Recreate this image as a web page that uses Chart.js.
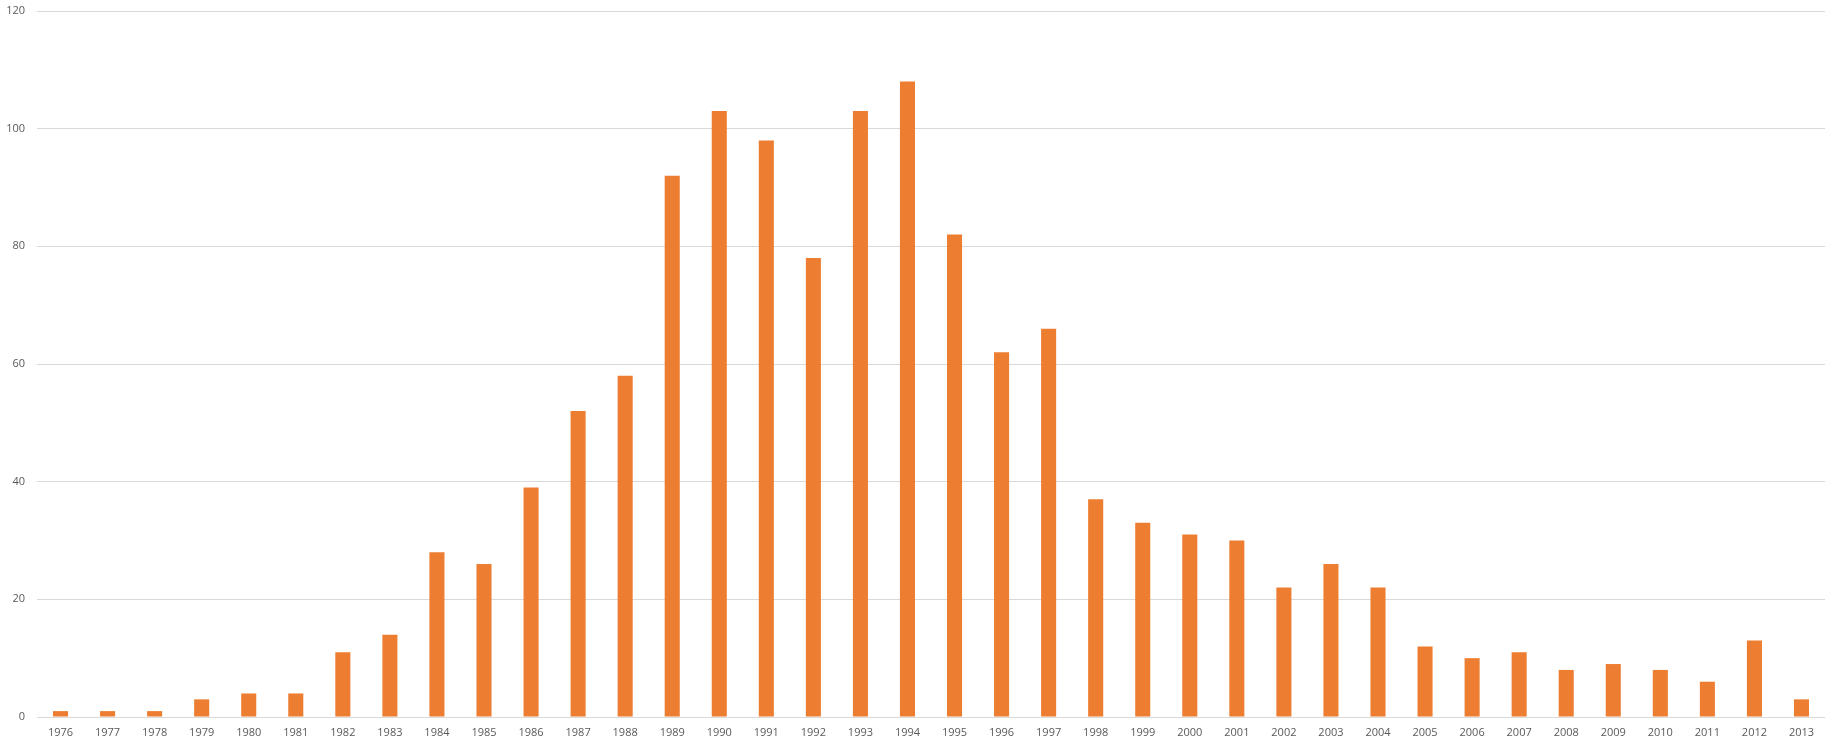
<!DOCTYPE html>
<html lang="en">
<head>
    <meta charset="UTF-8">
    <title>Bar chart 1976-2013</title>
    <script src="https://cdn.jsdelivr.net/npm/chart.js"></script>
    <style>
        body {
            margin: 0;
            padding: 0;
            background: #ffffff;
        }

        .wrap {
            width: 1834px;
            height: 748px;
            position: relative;
        }
    </style>
</head>
<body>
    <div class="wrap">
        <canvas id="barChart"></canvas>
    </div>

    <script>
        const years = [
            "1976", "1977", "1978", "1979", "1980", "1981", "1982", "1983", "1984", "1985",
            "1986", "1987", "1988", "1989", "1990", "1991", "1992", "1993", "1994", "1995",
            "1996", "1997", "1998", "1999", "2000", "2001", "2002", "2003", "2004", "2005",
            "2006", "2007", "2008", "2009", "2010", "2011", "2012", "2013"
        ];

        const counts = [
            1, 1, 1, 3, 4, 4, 11, 14, 28, 26,
            39, 52, 58, 92, 103, 98, 78, 103, 108, 82,
            62, 66, 37, 33, 31, 30, 22, 26, 22, 12,
            10, 11, 8, 9, 8, 6, 13, 3
        ];

        const yMin = 0;
        const yMax = 120;
        const yStep = 20;

        const tickFont = { family: "'Open Sans', sans-serif", size: 11 };
        const tickColor = "#595959";

        const barChart = new Chart(document.getElementById("barChart"), {
            type: 'bar',
            data: {
                labels: years,
                datasets: [{
                    data: counts,
                    backgroundColor: "#ED7D31",
                    borderWidth: 0,
                    barPercentage: 0.32,
                    categoryPercentage: 1.0
                }]
            },
            options: {
                responsive: true,
                maintainAspectRatio: false,
                devicePixelRatio: 1,
                animation: false,
                layout: {
                    padding: { top: 11, right: 9, bottom: 0, left: 0 }
                },
                plugins: {
                    legend: { display: false },
                    tooltip: { enabled: false }
                },
                scales: {
                    x: {
                        grid: { display: false, drawTicks: false },
                        border: { display: false },
                        ticks: {
                            color: tickColor,
                            font: tickFont,
                            autoSkip: false,
                            maxRotation: 0,
                            padding: 9
                        },
                        afterFit: s => {
                            s.height = 31;
                            s.paddingLeft = 0;
                            s.paddingRight = 0;
                        }
                    },
                    y: {
                        min: yMin,
                        max: yMax,
                        grid: { color: "#d9d9d9", lineWidth: 1, drawTicks: false },
                        border: { display: false },
                        ticks: {
                            stepSize: yStep,
                            color: tickColor,
                            font: tickFont,
                            padding: 12
                        },
                        afterFit: s => {
                            s.width = 37;
                            s.paddingTop = 0;
                            s.paddingBottom = 0;
                        }
                    }
                }
            }
        });
    </script>
</body>
</html>
